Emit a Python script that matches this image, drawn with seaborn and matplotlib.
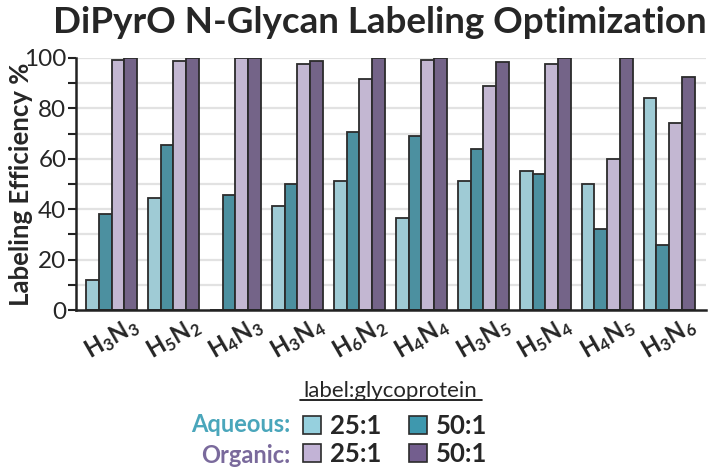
import numpy as np
import pandas as pd
import matplotlib
matplotlib.use("Agg")
import matplotlib.pyplot as plt
from matplotlib.patches import Patch
from matplotlib.lines import Line2D
from matplotlib.ticker import MultipleLocator
import seaborn as sns

glycans = [r"H$_3$N$_3$", r"H$_5$N$_2$", r"H$_4$N$_3$", r"H$_3$N$_4$", r"H$_6$N$_2$",
           r"H$_4$N$_4$", r"H$_3$N$_5$", r"H$_5$N$_4$", r"H$_4$N$_5$", r"H$_3$N$_6$"]
aqueous_25 = [12, 44.6, 0, 41.3, 51, 36.5, 51, 55, 50, 84]
aqueous_50 = [38.2, 65.3, 45.8, 49.8, 70.5, 68.9, 63.7, 53.9, 32, 25.6]
organic_25 = [99.3, 98.8, 100, 97.7, 91.5, 99.3, 89, 97.7, 59.8, 74.1]
organic_50 = [100, 100, 100, 98.8, 100, 100, 98.3, 100, 100, 92.4]
conditions = ["Aqueous 25:1", "Aqueous 50:1", "Organic 25:1", "Organic 50:1"]
colors = ["#96D0DE", "#3E98AE", "#C2B3D6", "#735E8E"]

sns.set_style("white")
plt.rcParams["font.family"] = ["Lato", "DejaVu Sans"]
plt.rcParams["mathtext.fontset"] = "custom"
plt.rcParams["mathtext.rm"] = "Lato:bold"
plt.rcParams["mathtext.it"] = "Lato:bold"
plt.rcParams["mathtext.bf"] = "Lato:bold"

rows = []
for vals, cond in zip([aqueous_25, aqueous_50, organic_25, organic_50], conditions):
    for g, v in zip(glycans, vals):
        rows.append({"glycan": g, "condition": cond, "value": v})
df = pd.DataFrame(rows)

fig = plt.figure(figsize=(7.12, 4.72), dpi=100)
ax = fig.add_axes([0.107, 0.3432, 0.885, 0.534])

for y in range(10, 101, 10):
    ax.axhline(y, color="#E2E2E2", lw=1.6, zorder=0)

sns.barplot(data=df, x="glycan", y="value", hue="condition", order=glycans,
            hue_order=conditions, palette=colors, width=0.82, edgecolor="#2b2b2b",
            linewidth=1.3, legend=False, ax=ax, zorder=2)

ax.set_xlim(-0.57, 9.6)
ax.set_ylim(0, 100)
ax.yaxis.set_major_locator(MultipleLocator(20))
ax.yaxis.set_minor_locator(MultipleLocator(10))
ax.tick_params(axis="y", which="both", direction="out", length=6, width=1.5,
               color="#222222", labelsize=17.5, pad=1, left=True)
ax.tick_params(axis="x", length=0, labelsize=17, pad=2)
for lbl in ax.get_xticklabels():
    lbl.set_rotation(30)
    lbl.set_ha("center")
    lbl.set_fontweight("bold")
for sp in ["top", "right"]:
    ax.spines[sp].set_visible(False)
for sp in ["left", "bottom"]:
    ax.spines[sp].set_color("#222222")
    ax.spines[sp].set_linewidth(1.8)
ax.set_xlabel("")
ax.set_ylabel("Labeling Efficiency %", fontsize=18.5, fontweight="bold")
ax.yaxis.set_label_coords(-0.069, 0.5)

fig.text(0.533, 0.953, "DiPyrO N-Glycan Labeling Optimization", ha="center", va="center",
         fontsize=26.5, fontweight="bold")

# legend
fig.text(0.548, 0.172, "label:glycoprotein", ha="center", va="center", fontsize=16)
fig.add_artist(Line2D([0.421, 0.677], [0.152, 0.152], color="black", lw=1.2,
                      transform=fig.transFigure))
fig.text(0.408, 0.100, "Aqueous:", ha="right", va="center", fontsize=17,
         fontweight="bold", color="#4AA6BB")
fig.text(0.408, 0.036, "Organic:", ha="right", va="center", fontsize=17,
         fontweight="bold", color="#7A6A9C")
handles = [Patch(facecolor=c, edgecolor="#2b2b2b", lw=1.2) for c in
           [colors[0], colors[2], colors[1], colors[3]]]
fig.legend(handles=handles, labels=["25:1", "25:1", "50:1", "50:1"], ncol=2,
           loc="center left", bbox_to_anchor=(0.425, 0.068), frameon=False,
           prop={"size": 18.5, "weight": "bold"}, handlelength=0.7, handleheight=0.7,
           handletextpad=0.35, columnspacing=1.1, labelspacing=0.18, borderpad=0,
           borderaxespad=0)

fig.savefig("out.png", dpi=100)
